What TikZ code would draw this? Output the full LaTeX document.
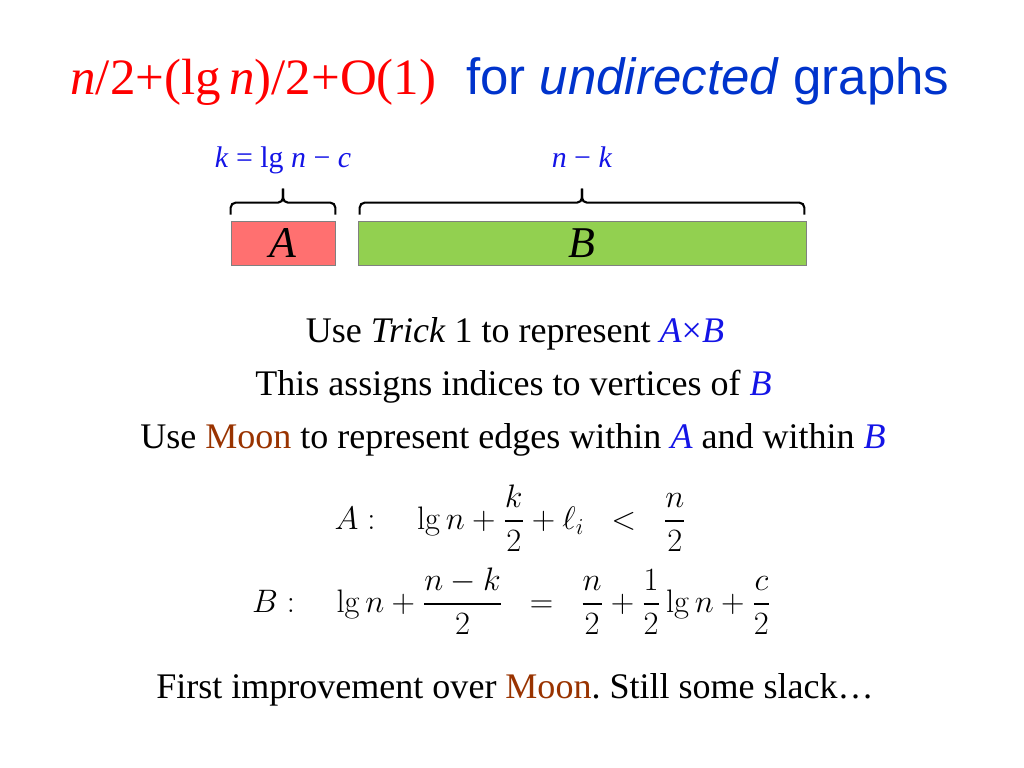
\RequirePackage{fix-cm}
\documentclass[tikz,border=0pt]{standalone}
\usepackage{amsmath}
\usepackage[no-math]{fontspec}
\setmainfont{Liberation Serif}
\newfontfamily\arialfont{Liberation Sans}
\definecolor{titlered}{RGB}{255,0,0}
\definecolor{titleblue}{RGB}{0,51,204}
\definecolor{varblue}{RGB}{20,20,230}
\definecolor{moonbrown}{RGB}{153,51,0}
\definecolor{boxred}{RGB}{255,112,112}
\definecolor{boxgreen}{RGB}{146,208,80}
\newcommand{\bodysize}{\fontsize{20.5}{25}\selectfont}
\newcommand{\mathsize}{\fontsize{18.5}{22}\selectfont}
\newcommand{\moon}{\textcolor{moonbrown}{Moon}}
\frenchspacing

\begin{document}
\begin{tikzpicture}
		\useasboundingbox (0,0) rectangle (20.48,-15.36);
		\node (title)[anchor=base west,inner sep=0pt,text=titlered,font=\fontsize{29}{34}\selectfont] at (1.40,-1.90) {\textit{n}/2+(lg\,\textit{n})/2+O(1)};
		\node (subtitle)[anchor=base west,inner sep=0pt,text=titleblue,font=\arialfont\fontsize{29}{34}\selectfont] at (9.32,-1.90) {for \textit{undirected} graphs};

		\node (A)[rectangle,draw=gray,fill=boxred,minimum width=2.08cm,minimum height=0.88cm,inner sep=0pt,font=\fontsize{25}{30}\selectfont] at (5.66,-4.86) {\textit{A}};
		\node (B)[rectangle,draw=gray,fill=boxgreen,minimum width=8.96cm,minimum height=0.88cm,inner sep=0pt,font=\fontsize{25}{30}\selectfont] at (11.64,-4.86) {\textit{B}};

		% braces over the two parts
		\foreach \part/\inset in {A/0mm,B/0.4mm}{
			\draw[rounded corners=1mm,line width=1.2pt] ([xshift=\inset,yshift=1.2mm]\part.north west) |- ([yshift=3.6mm]\part.north) -- ([yshift=6.4mm]\part.north);
			\draw[rounded corners=1mm,line width=1.2pt] ([xshift=-\inset,yshift=1.2mm]\part.north east) |- ([yshift=3.6mm]\part.north) -- ([yshift=6.4mm]\part.north);
		}
		\node (klabel)[anchor=base,text=varblue,font=\fontsize{17}{20}\selectfont] at ([yshift=10.6mm]A.north) {\textit{k} = lg \textit{n} − \textit{c}};
		\node (nklabel)[anchor=base,text=varblue,font=\fontsize{17}{20}\selectfont] at ([yshift=10.6mm]B.north) {\textit{n} − \textit{k}};

		\node (trick)[anchor=base,font=\bodysize] at (10.30,-6.86) {Use \textit{Trick} 1 to represent \textcolor{varblue}{\textit{A}×\textit{B}}};
		\node (indices)[anchor=base,font=\bodysize] at (10.27,-7.90) {This assigns indices to vertices of \textcolor{varblue}{\textit{B}}};
		\node (edges)[anchor=base,font=\bodysize] at (10.26,-8.96) {Use \moon{} to represent edges within \textcolor{varblue}{\textit{A}} and within \textcolor{varblue}{\textit{B}}};

		\node (boundA)[inner sep=0pt,font=\mathsize] at (10.21,-10.36) {$\displaystyle A:\quad \lg n+\frac{k}{2}+\ell_i\;\;<\;\;\frac{n}{2}$};
		\node (boundB)[inner sep=0pt,font=\mathsize] at (10.23,-12.02) {$\displaystyle B:\quad \lg n+\frac{n-k}{2}\;\;=\;\;\frac{n}{2}+\frac{1}{2}\lg n+\frac{c}{2}$};

		\node (slack)[anchor=base,font=\bodysize] at (10.30,-13.96) {First improvement over \moon. Still some slack…};
\end{tikzpicture}
\end{document}
